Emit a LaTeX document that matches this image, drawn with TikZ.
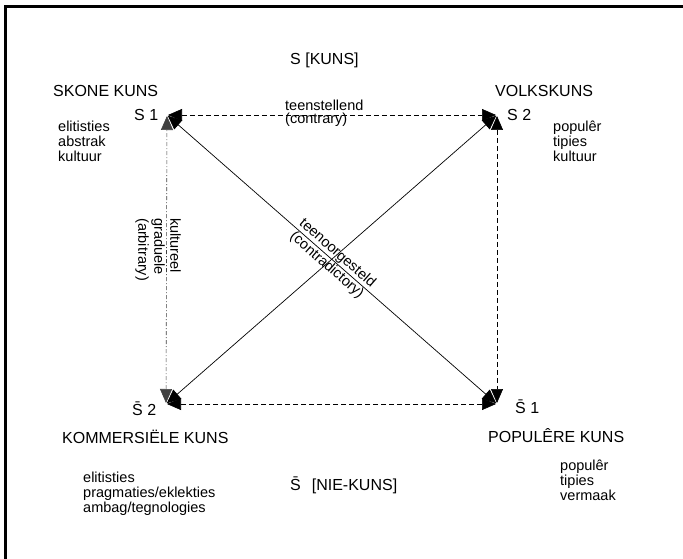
\documentclass[tikz,border=0pt]{standalone}
\usepackage{fontspec}
\setmainfont{Liberation Sans}
\usetikzlibrary{arrows.meta}
\newcommand{\Sbar}{\={S}}

\begin{document}
\begin{tikzpicture}[x=1pt, y=-1pt, font=\fontsize{14.5}{15}\selectfont,
  big/.style={font=\fontsize{16}{18}\selectfont, anchor=base west, inner sep=0pt},
  lst/.style={align=left, anchor=base west, inner sep=0pt},
  link/.style={{Triangle[length=14pt,width=12pt]}-{Triangle[length=14pt,width=12pt]}, line width=0.7pt, shorten <=1pt, shorten >=1pt},
  dashlink/.style={link, line width=0.6pt, dash pattern=on 5pt off 3pt},
  dotlink/.style={link, line width=0.6pt, black!75, dash pattern=on 4pt off 2pt on 1pt off 2pt}]
\useasboundingbox (0,0) rectangle (683,559);
\draw[line width=3pt] (5,559) -- (5,7) -- (683,7);
\coordinate (tl) at (167,115);
\coordinate (tr) at (497,115);
\coordinate (bl) at (166,404);
\coordinate (br) at (497,404);
\node[big] (kuns) at (290,65) {S [KUNS]};
\node[big] (skone) at (53,97) {SKONE KUNS};
\node[big] (volks) at (495,97) {VOLKSKUNS};
\node[big] (s1) at (134,121) {S 1};
\node[big] (s2) at (507,121) {S 2};
\node[big] (sb2) at (132,415) {\Sbar\ 2};
\node[big] (sb1) at (515,413) {\Sbar\ 1};
\node[big] (kom) at (62,443) {KOMMERSIËLE KUNS};
\node[big] (pop) at (488,442) {POPULÊRE KUNS};
\node[big] (niekuns) at (290,490) {\Sbar\hspace{11pt}[NIE-KUNS]};
\node[lst] (skonelst) at (58,162) {elitisties\\abstrak\\kultuur};
\node[lst] (volkslst) at (553,162) {populêr\\tipies\\kultuur};
\node[lst] (komlst) at (83,512) {elitisties\\pragmaties/eklekties\\ambag/tegnologies};
\node[lst] (poplst) at (560,500) {populêr\\tipies\\vermaak};
\draw[dashlink] (tl) -- (tr);
\draw[dashlink] (tr) -- (br);
\draw[dashlink] (br) -- (bl);
\draw[dotlink] (bl) -- (tl);
\draw[link] (tl) -- node[sloped, align=center, inner sep=0pt, font=\fontsize{14.5}{16}\selectfont] (contra) {teenoorgesteld\\(contradictory)} (br);
\draw[link] (tr) -- (bl);
\node[lst, font=\fontsize{14.5}{13}\selectfont] (contrary) at (285,124) {teenstellend\\(contrary)};
\node[align=left, anchor=west, inner sep=0pt, rotate=-90, font=\fontsize{14.5}{16}\selectfont] (arbit) at (158,218) {kultureel\\graduele\\(arbitrary)};
\end{tikzpicture}
\end{document}
